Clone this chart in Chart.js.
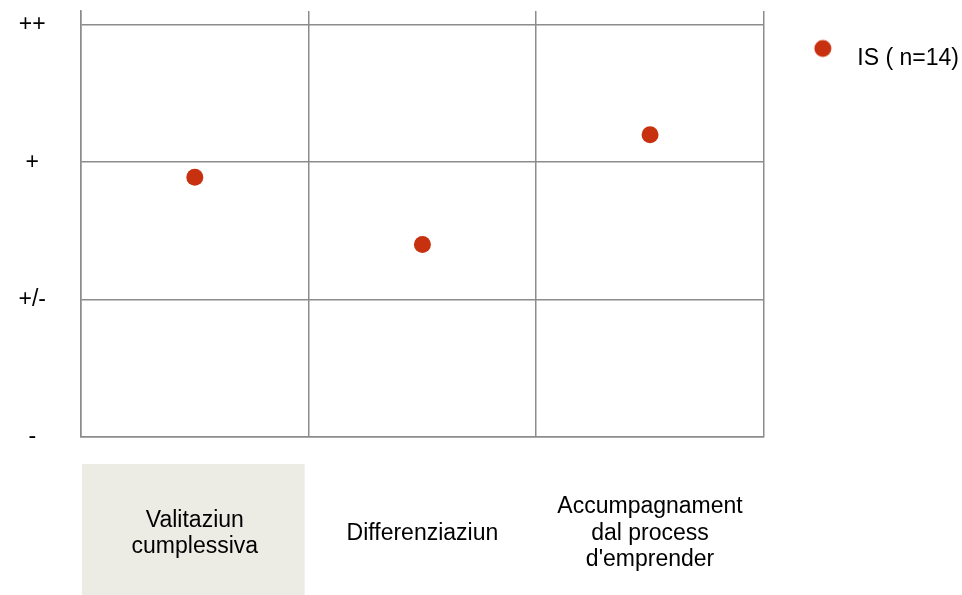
<!DOCTYPE html>
<html lang="rm">
<head>
<meta charset="UTF-8">
<title>IS (n=14)</title>
<script src="https://cdn.jsdelivr.net/npm/chart.js"></script>
<style>
  html, body { margin: 0; padding: 0; background: #fff; }
  #wrap { width: 962px; height: 595px; }
</style>
</head>
<body>
<div id="wrap"><canvas id="chart" width="962" height="595"></canvas></div>
<script>
// data
const categories = [
    ["Valitaziun", "cumplessiva"],
    "Differenziaziun",
    ["Accumpagnament", "dal process", "d'emprender"]
];
const yTickLabels = ["-", "+/-", "+", "++"];
const seriesLabel = "IS ( n=14)";
const seriesValues = [1.89, 1.40, 2.20];

const red = "#C7310F";
const gridColor = "#8c8c8c";
const font = "'Liberation Sans', Arial, sans-serif";

// legend dot as a small image so the text sits further from the dot
const dot = document.createElement("canvas");
dot.width = 20;
dot.height = 40;
const dctx = dot.getContext("2d");
dctx.fillStyle = red;
dctx.beginPath();
dctx.arc(10, 10, 8.5, 0, Math.PI * 2);
dctx.fill();

// beige panel behind the first category label
const panelPlugin = {
    id: "panel",
    beforeDraw(chart) {
        const x = chart.scales.x;
        const half = (x.getPixelForValue(1) - x.getPixelForValue(0)) / 2;
        const cx = x.getPixelForValue(0);
        const top = chart.chartArea.bottom + 27;
        const ctx = chart.ctx;
        ctx.save();
        ctx.fillStyle = "#ECEBE4";
        ctx.fillRect(cx - half + 1, top, 2 * half - 5, chart.height - top);
        ctx.restore();
    }
};

new Chart(document.getElementById("chart"), {
    type: "line",
    data: {
        labels: categories,
        datasets: [{
            label: seriesLabel,
            data: seriesValues,
            showLine: false,
            pointStyle: "circle",
            pointRadius: 8.5,
            pointHoverRadius: 8.5,
            pointBackgroundColor: red,
            pointBorderColor: red,
            pointBorderWidth: 0,
            backgroundColor: red,
            borderColor: red
        }]
    },
    options: {
        responsive: false,
        animation: false,
        layout: { padding: { top: 11, right: -7, bottom: 0, left: 0 } },
        plugins: {
            tooltip: { enabled: false },
            legend: {
                position: "right",
                align: "start",
                labels: {
                    usePointStyle: true,
                    pointStyle: dot,
                    pointStyleWidth: 46,
                    padding: 36,
                    color: "#000",
                    font: { family: font, size: 23 }
                }
            }
        },
        scales: {
            x: {
                offset: true,
                afterFit(scale) {
                    scale.height = 158;
                    scale.paddingLeft = 0;
                    scale.paddingRight = 0;
                },
                grid: { offset: true, color: gridColor, lineWidth: 1.5, drawTicks: false },
                border: { color: gridColor, width: 1.5 },
                ticks: {
                    color: "#000",
                    crossAlign: "center",
                    padding: 70,
                    maxRotation: 0,
                    font: { family: font, size: 23, lineHeight: 1.15 }
                }
            },
            y: {
                min: 0,
                max: 3.1,
                afterBuildTicks(scale) {
                    scale.ticks = yTickLabels.map((_, i) => ({ value: i }));
                },
                afterFit(scale) {
                    scale.width = 81;
                    scale.paddingTop = 0;
                    scale.paddingBottom = 0;
                },
                grid: { color: gridColor, lineWidth: 1.5, drawTicks: false },
                border: { color: gridColor, width: 1.5 },
                ticks: {
                    color: "#000",
                    crossAlign: "center",
                    padding: 35,
                    callback: (v) => yTickLabels[v],
                    font: { family: font, size: 23 }
                }
            }
        }
    },
    plugins: [panelPlugin]
});
</script>
</body>
</html>
